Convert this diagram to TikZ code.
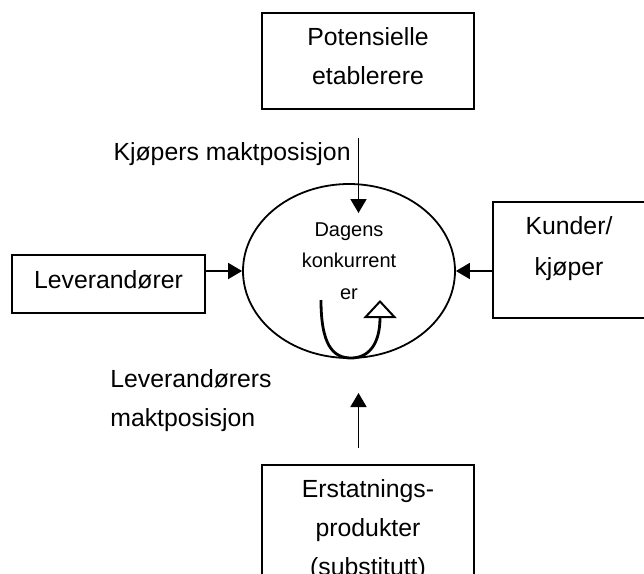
\documentclass[tikz,border=0pt]{standalone}
\usepackage{fontspec}
\setmainfont{Liberation Sans}
\usetikzlibrary{arrows.meta,shapes.geometric}

\begin{document}
\begin{tikzpicture}[x=0.5pt, y=-0.5pt,
    boks/.style={rectangle, draw, line width=0.9pt, align=center, inner sep=0pt, font=\fontsize{12.4}{19.5}\selectfont},
    merke/.style={inner sep=0pt, font=\fontsize{12.4}{19.5}\selectfont},
    pil/.style={line width=0.9pt, -{Triangle[length=7pt, width=8pt]}},
    sloyfe/.style={line width=1.4pt, -{Triangle[open, line width=1pt, length=9pt, width=16.5pt]}}]
      \useasboundingbox (0,0) rectangle (644,574);
      \clip (0,0) rectangle (644,574);

      \node[boks, minimum width=106pt, minimum height=48pt, text depth=4.6pt] (pot) at (368, 61) [] {Potensielle\\etablerere};
      \node[boks, minimum width=96.5pt, minimum height=29pt, text depth=4.5pt] (lev) at (108.5, 284) [] {Leverandører};
      \node[boks, minimum width=76pt, minimum height=58pt, text depth=13.6pt, font=\fontsize{12.4}{20.5}\selectfont] (kunde) at (569, 260) [] {Kunder/\\kjøper};
      \node[boks, minimum width=106pt, inner ysep=7.3pt, anchor=north] (erst) at (368, 464) [] {Erstatnings-\\produkter\\(substitutt)};
      \node[ellipse, draw, line width=0.9pt, minimum width=106pt, minimum height=87pt, inner sep=0pt, align=center, text depth=10pt, font=\fontsize{10}{15.8}\selectfont] (konk) at (349, 271) [] {Dagens\\konkurrent\\er};

      \node[merke, anchor=north east] (kjop) at (351, 142) [] {Kjøpers maktposisjon};
      \node[merke, anchor=north west, align=left] (levmakt) at (110, 369) [] {Leverandørers\\maktposisjon};

      \coordinate (kjopstart) at (358.5, 138);
      \coordinate (kjopslutt) at (358.5, 213);
      \coordinate (erststart) at (358.5, 448);
      \coordinate (erstslutt) at (358.5, 393);
      \coordinate (levut) at (lev.east |- konk.west);
      \coordinate (kundeut) at (kunde.west |- konk.east);

      \foreach \source/\dest in {kjopstart/kjopslutt, erststart/erstslutt, levut/konk.west, kundeut/konk.east}
        \path[pil] (\source) edge (\dest);

      \coordinate (sloyfestart) at (321, 300);
      \coordinate (sloyfespiss) at (380, 300);
      \draw[sloyfe] (sloyfestart) .. controls (321, 345) and (333, 358) .. (351, 358) .. controls (368, 358) and (380, 345) .. (sloyfespiss);
    \end{tikzpicture}
\end{document}
